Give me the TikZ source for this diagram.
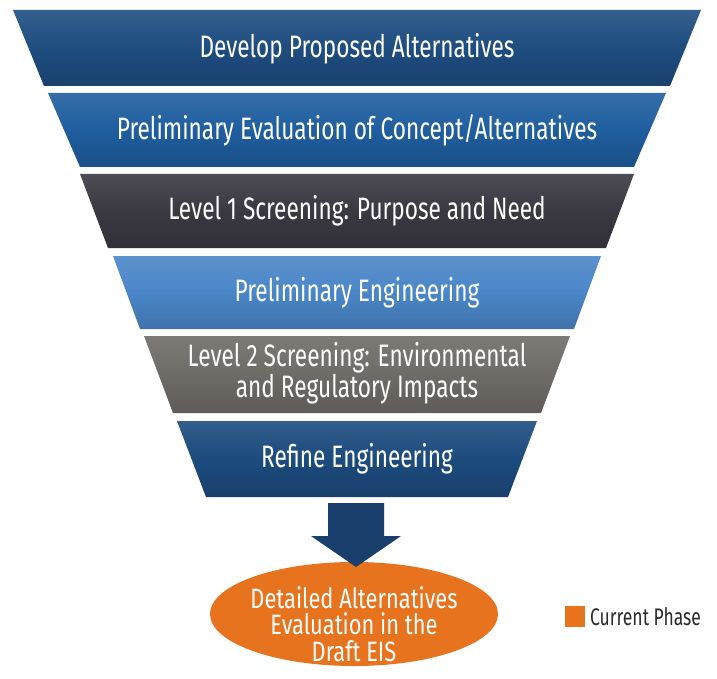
\documentclass[tikz,border=0pt]{standalone}
\usepackage{fontspec}
\setmainfont{Fira Sans}[FakeStretch=0.73]
\newfontfamily\ovalfont{Fira Sans}[FakeStretch=0.78]
\usetikzlibrary{calc,shapes.geometric}
\definecolor{bandA}{HTML}{1E4D80}
\definecolor{bandB}{HTML}{1F5E9F}
\definecolor{bandC}{HTML}{3A3942}
\definecolor{bandD}{HTML}{4A86C8}
\definecolor{bandE}{HTML}{6F6B67}
\definecolor{bandF}{HTML}{1C4B7E}
\definecolor{arrowc}{HTML}{1B3F6C}
\definecolor{orangec}{HTML}{E8731F}
\definecolor{legtext}{HTML}{2B2B2B}
\tikzset{
  bandtext/.style={text=white, font=\fontsize{31}{27}\selectfont, align=center, inner sep=0pt},
  ovalbox/.style={ellipse, fill=orangec, minimum width=288pt, minimum height=104pt, inner sep=0pt},
  ovaltext/.style={text=white, font=\ovalfont\fontsize{28}{26.5}\selectfont, align=center, inner sep=0pt},
  legendtext/.style={text=legtext, font=\fontsize{24}{24}\selectfont, anchor=west, inner sep=0pt},
}
% #1 name, #2 y top, #3 y bottom, #4 top half width, #5 bottom half width, #6 colour
\newcommand\funnelband[6]{%
  \shade[top color=#6!90!white, bottom color=#6!85!black, middle color=#6]
    (357-#4,#2) -- (357+#4,#2) -- (357+#5,#3) -- (357-#5,#3) -- cycle;
  \coordinate (#1) at (357,{(#2+#3)/2});
}
\begin{document}
\begin{tikzpicture}[x=1pt,y=-1pt]
\useasboundingbox (0,0) rectangle (717,679);
\fill[white] (0,0) rectangle (717,679);

\funnelband{b1}{10}{86}{344}{313}{bandA}
\funnelband{b2}{93}{167}{309}{277}{bandB}
\funnelband{b3}{174}{248}{277}{249}{bandC}
\funnelband{b4}{256}{329}{244}{217}{bandD}
\funnelband{b5}{336}{413}{213}{184}{bandE}
\funnelband{b6}{421}{497}{180}{151}{bandF}

\node[bandtext] (t1) at ($(b1)+(0,1)$) {Develop Proposed Alternatives};
\node[bandtext] (t2) at ($(b2)+(0,0)$) {Preliminary Evaluation of Concept/Alternatives};
\node[bandtext] (t3) at ($(b3)+(0,0)$) {Level 1 Screening: Purpose and Need};
\node[bandtext] (t4) at ($(b4)+(0,0)$) {Preliminary Engineering};
\node[bandtext] (t5) at ($(b5)+(0,-1)$) {Level 2 Screening: Environmental\\and Regulatory Impacts};
\node[bandtext] (t6) at ($(b6)+(0,0)$) {Refine Engineering};

% oval
\node[ovalbox] (ovalc) at (354,614) {};
\node[ovaltext] (oval) at ($(ovalc)+(0,10)$) {Detailed Alternatives\\Evaluation in the\\Draft EIS};

% block arrow from refine engineering to oval
\coordinate (ar) at (356,503);
\fill[arrowc] ($(ar)+(-28,0)$) -- ($(ar)+(28,0)$) -- ($(ar)+(28,33)$) -- ($(ar)+(45,33)$)
  -- ($(ar)+(0,64)$) -- ($(ar)+(-45,33)$) -- ($(ar)+(-28,33)$) -- cycle;

% legend
\fill[orangec] (565,606) rectangle (585,627);
\node[legendtext] (leg) at (590,617) {Current Phase};
\end{tikzpicture}
\end{document}
